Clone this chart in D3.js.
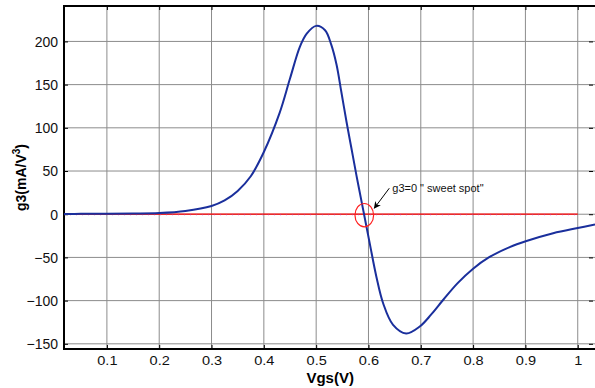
<!DOCTYPE html>
<html>
<head>
<meta charset="utf-8">
<script src="https://cdn.jsdelivr.net/npm/d3@7"></script>
<style>
    body { margin: 0; background: #fff; }
    text { font-family: Arial, "Liberation Sans", sans-serif; }
</style>
</head>
<body>
<div id="chart"></div>
<script>
// g3 vs Vgs
const vgs = [0.018, 0.05, 0.1, 0.15, 0.2, 0.25, 0.3, 0.325, 0.35, 0.375, 0.4, 0.43, 0.45, 0.469, 0.482, 0.5, 0.517, 0.529,
    0.539, 0.548, 0.558, 0.5675, 0.577, 0.587, 0.6025, 0.615, 0.628, 0.647, 0.672, 0.698, 0.72, 0.743, 0.77, 0.8, 0.83, 0.87, 0.902,
    0.953, 1.0, 1.033];
const g3 = [0.3, 0.4, 0.5, 0.8, 1.4, 3.8, 9.6, 16, 27, 44, 72, 117, 157, 194, 209, 218, 213, 196,
    173, 142, 107, 76, 45, 14, -34, -72, -103, -128, -138, -130, -116, -99, -80, -63, -50, -38, -31,
    -22, -16, -12];
const zeroX = [0.018, 1.0];
const xTicks = [0.1, 0.2, 0.3, 0.4, 0.5, 0.6, 0.7, 0.8, 0.9, 1];
const yTicks = [-150, -100, -50, 0, 50, 100, 150, 200];
const sweetSpot = { x: 0.592, y: 0, label: "g3=0 \" sweet spot\"" };

const width = 595, height = 388;
const margin = { left: 64, right: 0, top: 6, bottom: 39 };

const svg = d3.select("#chart").append("svg")
    .attr("width", width)
    .attr("height", height);

const x = d3.scaleLinear().domain([0.018, 1.033]).range([margin.left, width - margin.right]);
const y = d3.scaleLinear().domain([-156, 241]).range([height - margin.bottom, margin.top]);

const plotH = height - margin.top - margin.bottom;

// grid
svg.append("g")
    .selectAll("line")
    .data(xTicks)
    .join("line")
    .attr("x1", d => x(d)).attr("x2", d => x(d))
    .attr("y1", margin.top).attr("y2", height - margin.bottom)
    .attr("stroke", "#8c8c8c")
    .attr("stroke-width", 1);

svg.append("g")
    .selectAll("line")
    .data(yTicks)
    .join("line")
    .attr("y1", d => y(d)).attr("y2", d => y(d))
    .attr("x1", margin.left).attr("x2", width)
    .attr("stroke", "#8c8c8c")
    .attr("stroke-width", 1);

// axes, ticks pointing in
const xAxis = svg.append("g")
    .attr("transform", `translate(0,${height - margin.bottom})`)
    .call(d3.axisBottom(x).tickValues(xTicks).tickSize(-4).tickPadding(7).tickFormat(d => d === 1 ? "1" : d3.format(".1f")(d)));
const xTop = svg.append("g")
    .attr("transform", `translate(0,${margin.top})`)
    .call(d3.axisTop(x).tickValues(xTicks).tickSize(-4).tickFormat(""));
const yAxis = svg.append("g")
    .attr("transform", `translate(${margin.left},0)`)
    .call(d3.axisLeft(y).tickValues(yTicks).tickSize(-4).tickPadding(6));
const yRight = svg.append("g")
    .attr("transform", `translate(${width - 2},0)`)
    .call(d3.axisRight(y).tickValues(yTicks).tickSize(-4).tickFormat(""));

[xAxis, xTop, yAxis, yRight].forEach(a => {
    a.selectAll(".tick line").attr("stroke", "#000");
    a.select(".domain").remove();
});
xAxis.selectAll("text").attr("font-size", 13).attr("fill", "#111")
    .attr("transform", "scale(1.12,1)");
yAxis.selectAll("text").attr("font-size", 14).attr("fill", "#111")
    .attr("dy", "0.35em");

// borders
svg.append("line")
    .attr("x1", margin.left).attr("x2", width)
    .attr("y1", margin.top).attr("y2", margin.top)
    .attr("stroke", "#000").attr("stroke-width", 2);
svg.append("line")
    .attr("x1", margin.left).attr("x2", width)
    .attr("y1", height - margin.bottom).attr("y2", height - margin.bottom)
    .attr("stroke", "#000").attr("stroke-width", 2);
svg.append("line")
    .attr("x1", margin.left).attr("x2", margin.left)
    .attr("y1", margin.top - 1).attr("y2", height - margin.bottom + 1)
    .attr("stroke", "#000").attr("stroke-width", 2);

// zero reference line
svg.append("line")
    .attr("x1", x(zeroX[0])).attr("x2", x(zeroX[1]))
    .attr("y1", y(0)).attr("y2", y(0))
    .attr("stroke", "#ff0000")
    .attr("stroke-width", 1.2);
svg.append("line")
    .attr("x1", x(zeroX[0])).attr("x2", x(zeroX[1]))
    .attr("y1", y(0) + 0.6).attr("y2", y(0) + 0.6)
    .attr("stroke", "#c040c0")
    .attr("stroke-width", 1)
    .attr("stroke-dasharray", "1,5")
    .attr("opacity", 0.6);

// g3 curve
const pts = vgs.map((v, i) => [v, g3[i]]);
const line = d3.line()
    .x(d => x(d[0]))
    .y(d => y(d[1]))
    .curve(d3.curveCatmullRom.alpha(0.5));

svg.append("path")
    .datum(pts)
    .attr("d", line)
    .attr("fill", "none")
    .attr("stroke", "#1a2f9c")
    .attr("stroke-width", 2);

// sweet spot annotation
const cx = x(sweetSpot.x), cy = y(sweetSpot.y);
svg.append("ellipse")
    .attr("cx", cx).attr("cy", cy + 1)
    .attr("rx", 9.3).attr("ry", 11.7)
    .attr("fill", "none")
    .attr("stroke", "#ff2020")
    .attr("stroke-width", 1.2);

svg.append("defs").append("marker")
    .attr("id", "arrow")
    .attr("viewBox", "0 0 10 10")
    .attr("refX", 9).attr("refY", 5)
    .attr("markerWidth", 7).attr("markerHeight", 7)
    .attr("orient", "auto")
    .append("path")
    .attr("d", "M0,0 L10,5 L0,10 L3,5 Z")
    .attr("fill", "#000");

svg.append("line")
    .attr("x1", cx + 25).attr("y1", cy - 26)
    .attr("x2", cx + 10).attr("y2", cy - 6)
    .attr("stroke", "#000")
    .attr("stroke-width", 1)
    .attr("marker-end", "url(#arrow)");

svg.append("text")
    .attr("x", cx + 28).attr("y", cy - 22)
    .attr("font-size", 11)
    .attr("fill", "#111")
    .text(sweetSpot.label);

// axis titles
svg.append("text")
    .attr("x", x(0.5) + 14).attr("y", 383)
    .attr("text-anchor", "middle")
    .attr("font-size", 15)
    .attr("font-weight", "bold")
    .text("Vgs(V)");

const yt = svg.append("text")
    .attr("transform", `translate(26,${margin.top + plotH / 2}) rotate(-90)`)
    .attr("text-anchor", "middle")
    .attr("font-size", 14)
    .attr("font-weight", "bold");
yt.append("tspan").text("g3(mA/V");
yt.append("tspan").attr("font-size", 10).attr("dy", -6).text("3");
yt.append("tspan").attr("dy", 6).text(")");
</script>
</body>
</html>
